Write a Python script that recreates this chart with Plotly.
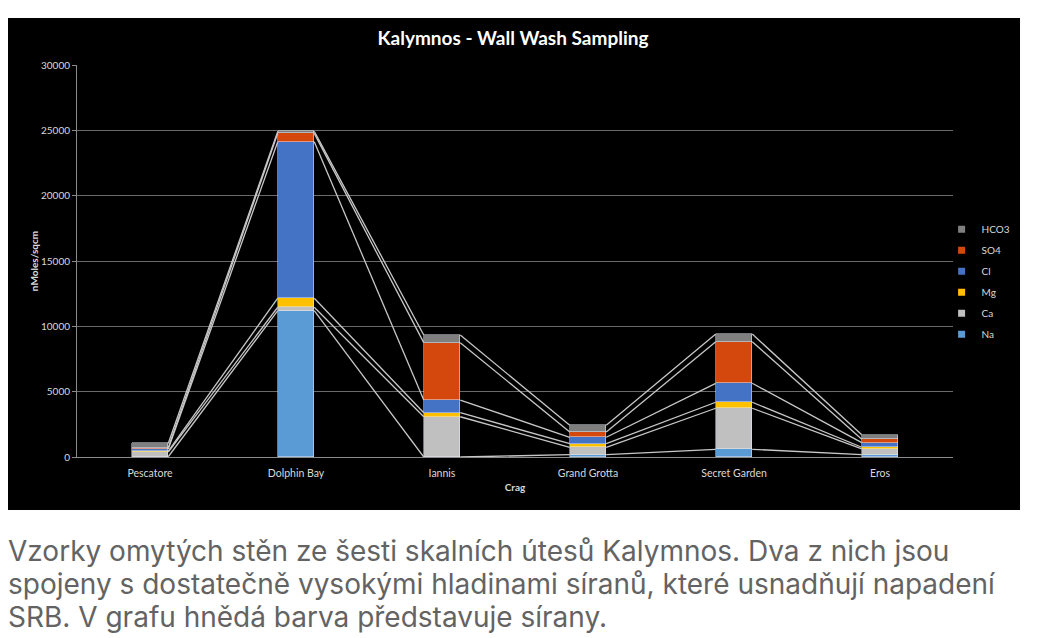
import numpy as np
import plotly.graph_objects as go

# data (nMoles/sqcm)
crags = ["Pescatore", "Dolphin Bay", "Iannis", "Grand Grotta", "Secret Garden", "Eros"]
na = [20, 11200, 0, 175, 590, 175]
ca = [360, 260, 3080, 570, 3140, 440]
mg = [75, 690, 310, 275, 460, 130]
cl = [150, 11980, 970, 490, 1450, 350]
so4 = [115, 640, 4390, 405, 3180, 260]
hco3 = [320, 150, 590, 510, 590, 350]

series = [("Na", na, "#5b9bd5"), ("Ca", ca, "#c0c0c0"), ("Mg", mg, "#ffc000"),
          ("Cl", cl, "#4472c4"), ("SO4", so4, "#d4470d"), ("HCO3", hco3, "#7f7f7f")]

bar_w = 0.25
xs = np.arange(len(crags))

fig = go.Figure()
for name, vals, col in series:
    fig.add_trace(go.Bar(x=xs, y=vals, name=name, marker_color=col, width=bar_w,
                         showlegend=False))

# excel-style series lines joining the top of each segment
cum = np.zeros(len(crags))
for name, vals, col in series:
    cum = cum + np.array(vals)
    lx, ly = [], []
    for i in range(len(crags) - 1):
        lx += [xs[i] + bar_w / 2, xs[i + 1] - bar_w / 2, None]
        ly += [cum[i], cum[i + 1], None]
    fig.add_trace(go.Scatter(x=lx, y=ly, mode="lines", showlegend=False, hoverinfo="skip",
                             line=dict(color="#c8c8c8", width=1.3)))

# small square legend keys, top to bottom like the original
for name, vals, col in series[::-1]:
    fig.add_trace(go.Scatter(x=[None], y=[None], mode="markers", name=name, legendgroup=name,
                             marker=dict(symbol="square", size=7, color=col)))

# black chart box behind everything
fig.add_shape(type="rect", xref="paper", yref="paper", x0=-0.0788, x1=1.0765, y0=-0.1352, y1=1.12,
              fillcolor="black", line_width=0, layer="below")

caption = ["Vzorky omytých stěn ze šesti skalních útesů Kalymnos. Dva z nich jsou",
           "spojeny s dostatečně vysokými hladinami síranů, které usnadňují napadení",
           "SRB. V grafu hnědá barva představuje sírany."]
for k, line in enumerate(caption):
    fig.add_annotation(text=line, xref="paper", yref="paper", x=-0.0815, y=-0.2398 - k * 0.0842,
                       xanchor="left", yanchor="middle", showarrow=False,
                       font=dict(family="Inter", size=28, color="#636363"))

# page body has an 8px margin, so the figure is 8px smaller
fig.update_layout(
    width=1040, height=630,
    margin=dict(l=69, r=95, t=57, b=181),
    paper_bgcolor="white", plot_bgcolor="#404040",
    barmode="stack", bargap=0,
    font=dict(family="Lato", color="#d9d9d9", size=10),
    title=dict(text="<b>Kalymnos - Wall Wash Sampling</b>", x=0.4856, xanchor="center",
               y=0.952, yanchor="middle", font=dict(family="Lato", size=19, color="white")),
    legend=dict(x=0.987, y=0.618, xanchor="left", yanchor="top", tracegroupgap=2,
                font=dict(size=10, color="#d9d9d9"), bgcolor="rgba(0,0,0,0)"),
    showlegend=True,
)
fig.update_xaxes(tickvals=xs, ticktext=crags, range=[-0.5, len(crags) - 0.5],
                 showgrid=False, showline=True, linecolor="#8a8a8a",
                 ticks="outside", ticklen=6, tickcolor="rgba(0,0,0,0)",
                 title=dict(text="<b>Crag</b>", standoff=6, font=dict(size=10, color="#d9d9d9")),
                 tickfont=dict(size=10.5, color="#d9d9d9"))
fig.update_yaxes(range=[0, 30000], dtick=5000, tickformat="d", showgrid=True, gridcolor="#6a6a6a",
                 gridwidth=1, showline=True, linecolor="#8a8a8a", ticks="outside", ticklen=4,
                 tickcolor="#8a8a8a", zeroline=False,
                 title=dict(text="<b>nMoles/sqcm</b>", standoff=0, font=dict(size=10, color="#d9d9d9")),
                 tickfont=dict(size=10, color="#d9d9d9"))

fig.write_html("out.html")
